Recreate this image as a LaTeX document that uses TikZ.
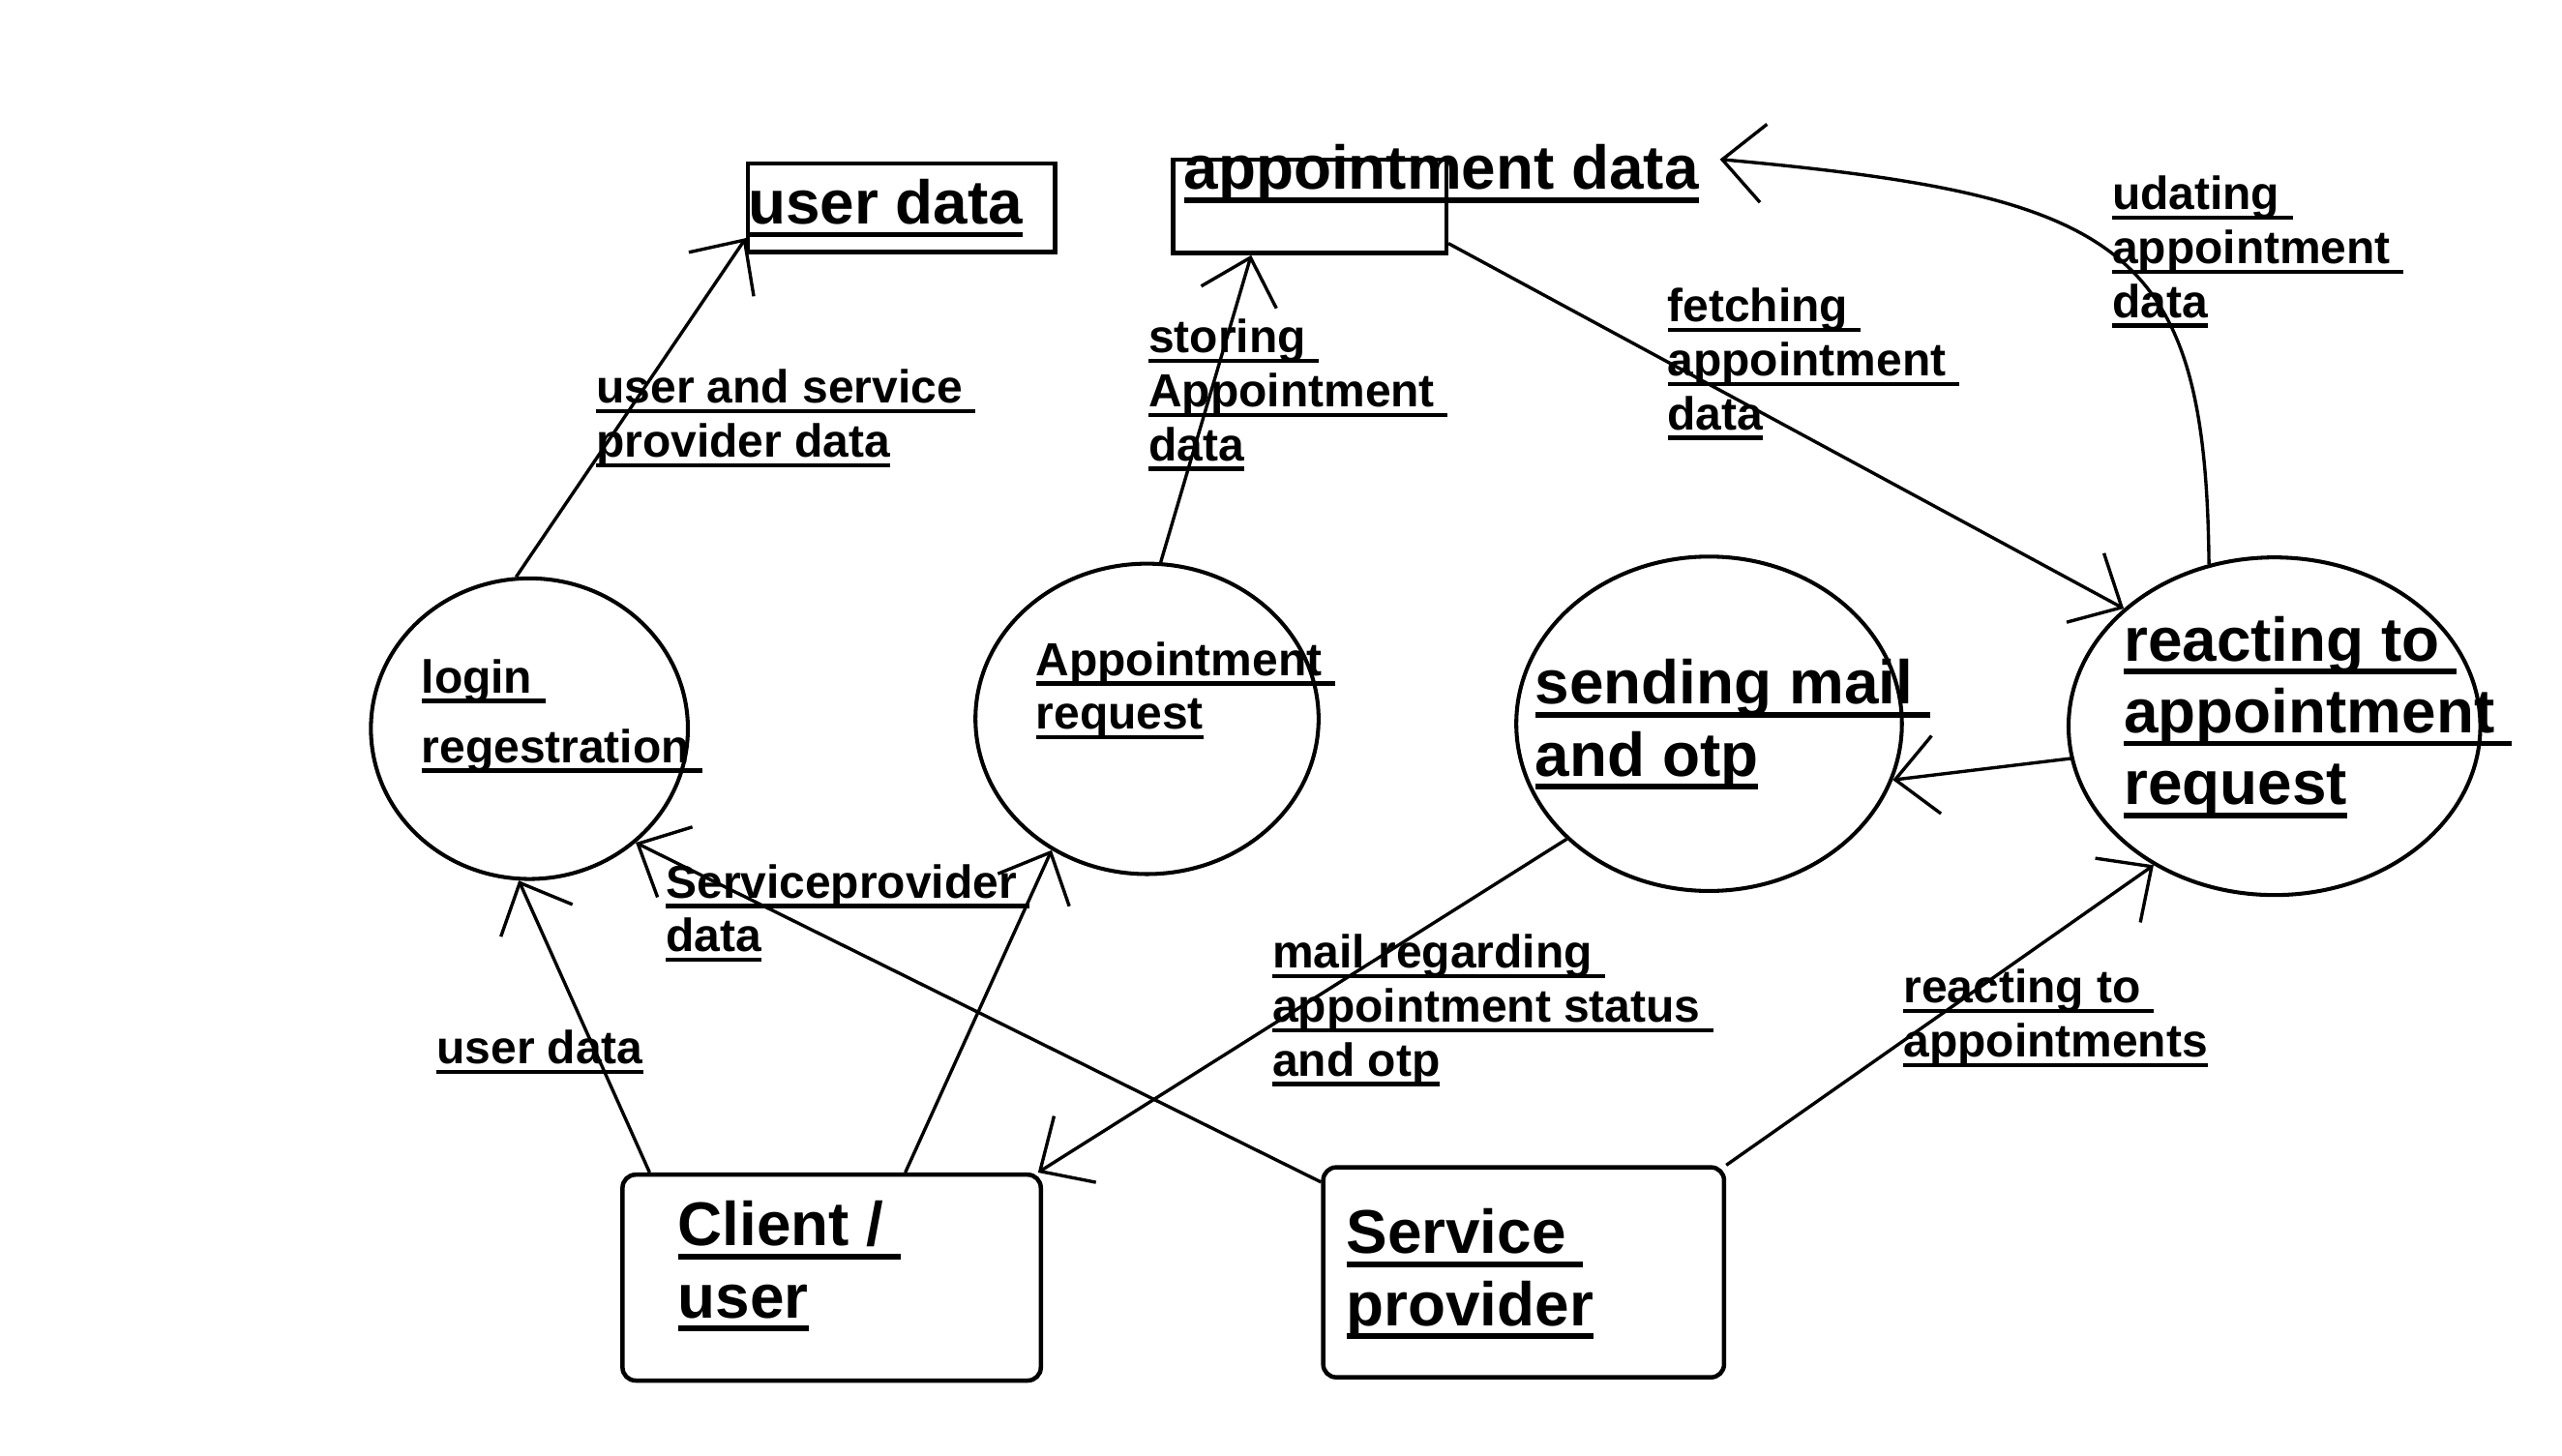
\documentclass[tikz,border=0pt]{standalone}
\usepackage{fontspec}
\setmainfont{Liberation Sans}
\usetikzlibrary{arrows.meta,shapes.geometric}

\newcommand{\uln}[1]{\setbox0\hbox{#1}\rlap{\vrule height -0.13em depth 0.22em width \wd0}\box0}

\tikzset{every picture/.style={line width=1.5pt}}
\tikzset{
  process/.style={draw, ellipse, line width=1.8pt, inner sep=0},
  store/.style={draw, rectangle, line width=2pt, inner sep=0},
  entity/.style={draw, rectangle, rounded corners=6pt, line width=2pt, inner sep=0},
  lbl/.style={inner sep=0, align=left, anchor=base west, font=\fontsize{21.3}{24.75}\selectfont\bfseries},
  biglbl/.style={inner sep=0, align=left, anchor=base west, font=\fontsize{28.35}{33}\selectfont\bfseries},
  flow/.style={-{Straight Barb[length=19pt,width=36pt]}}
}

\begin{document}
\begin{tikzpicture}[x=0.75pt,y=0.75pt,yscale=-1,xscale=1]
        \useasboundingbox (0,0) rectangle (1568,891);

        %Shape: Rectangle [data stores]
        \node[store, minimum width=141pt, minimum height=40.5pt] (userdata) at (551.8,127.2) {};
        \node[store, minimum width=125.5pt, minimum height=43pt] (apptdata) at (801.5,126.25) {};
        \node[biglbl] (usertitle) at (457,137) {\uln{user data}};
        \node[biglbl, inner xsep=9pt] (appttitle) at (711.6,116) {\uln{appointment data}};

        %Shape: Ellipse [processes]
        \node[process, minimum width=145.5pt, minimum height=138pt] (login) at (324,446) {};
        \node[process, minimum width=157.5pt, minimum height=142.5pt] (apptreq) at (702,440) {};
        \node[process, minimum width=177pt, minimum height=153.5pt] (sendmail) at (1046,443) {};
        \node[process, minimum width=189pt, minimum height=155pt] (react) at (1392,444.5) {};
        % base of a multi-line node = baseline of its last line
        \node[lbl, font=\fontsize{21.3}{32}\selectfont\bfseries] (logintxt) at (257,466.7) {\uln{login\ }\\\uln{regestration\ }};
        \node[lbl] (apptreqtxt) at (633,446.4) {\uln{Appointment\ }\\\uln{request}};
        \node[biglbl] (sendmailtxt) at (938.7,475) {\uln{sending mail\ }\\\uln{and otp}};
        \node[biglbl] (reacttxt) at (1299,492.5) {\uln{reacting to\ }\\\uln{appointment\ }\\\uln{request}};

        %Shape: Rounded Rect [external entities]
        \node[entity, minimum width=192pt, minimum height=94.5pt] (client) at (509,782) {};
        \node[entity, minimum width=184pt, minimum height=96.4pt] (service) at (932.5,778.75) {};
        \node[biglbl] (clienttxt) at (414,806.5) {\uln{Client /\ }\\\uln{user}};
        \node[biglbl] (servicetxt) at (823,811.3) {\uln{Service\ }\\\uln{provider}};

        %Text [flow labels]
        \node[lbl] (usersvc) at (364,279.7) {\uln{user and service\ }\\\uln{provider data}};
        \node[lbl] (storing) at (702,282) {\uln{storing\ }\\\uln{Appointment\ }\\\uln{data}};
        \node[lbl] (fetching) at (1019.6,263) {\uln{fetching\ }\\\uln{appointment\ }\\\uln{data}};
        \node[lbl] (updating) at (1291.7,194.3) {\uln{udating\ }\\\uln{appointment\ }\\\uln{data}};
        \node[lbl] (spdata) at (406.6,582.6) {\uln{Serviceprovider\ }\\\uln{data}};
        \node[lbl] (udata) at (266.3,651.3) {\uln{user data}};
        \node[lbl] (mailing) at (777.8,658.6) {\uln{mail regarding\ }\\\uln{appointment status\ }\\\uln{and otp}};
        \node[lbl] (reacting) at (1164,646.8) {\uln{reacting to\ }\\\uln{appointments}};

        %Straight Lines [flows]
        \draw[flow] (login.95) -- (userdata.191);
        \draw[flow] (apptreq.85) -- (apptdata.220);
        \draw[flow] (apptdata.345) -- (react.142);
        %Curve Lines
        \draw[flow] (react.112) .. controls (1350,150) and (1300,120) .. (appttitle.3);
        \draw[flow] (react.189) -- (sendmail.343);
        \draw[flow] (sendmail.219) -- (client.27);
        \draw[flow] (client.150) -- (login.266);
        \draw[flow] (client.55) -- (apptreq.234);
        \draw[flow] (service.156) -- (login.313);
        \draw[flow] (service.north east) -- (react.229);

\end{tikzpicture}
\end{document}
